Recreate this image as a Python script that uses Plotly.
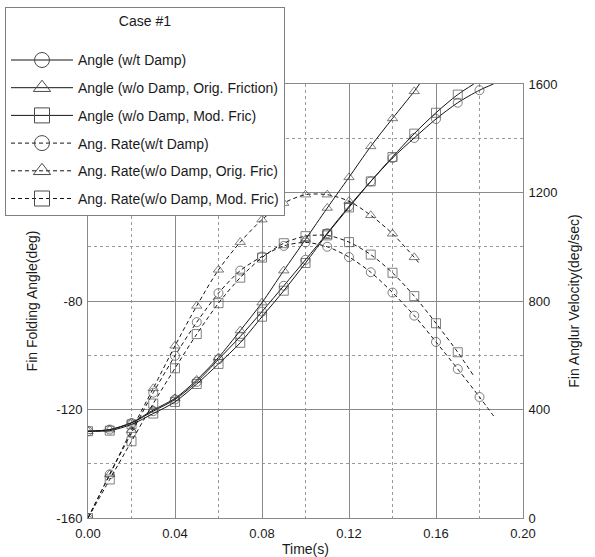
import plotly.graph_objects as go

# ---------------- data ----------------
t_marks = [0.00, 0.01, 0.02, 0.03, 0.04, 0.05, 0.06, 0.07, 0.08, 0.09,
           0.10, 0.11, 0.12, 0.13, 0.14, 0.15, 0.16, 0.17, 0.18]

# Angle (deg, left axis)
angle_wt_damp_t = t_marks[:19] + [0.1864]
angle_wt_damp = [-128.0, -127.4, -125.0, -120.6, -116.3, -109.8, -101.5, -93.1, -83.9, -74.4,
                 -64.8, -55.0, -45.1, -35.9, -27.3, -19.9, -12.9, -6.9, -2.3, 0.0]

angle_orig_t = t_marks[:16] + [0.1524]
angle_orig = [-128.0, -127.4, -124.8, -120.2, -115.9, -109.1, -100.8, -90.9, -80.6, -68.8,
              -57.3, -45.7, -34.4, -23.0, -12.7, -2.7, 0.0]

angle_mod_t = t_marks[:18] + [0.1774]
angle_mod = [-128.0, -127.8, -125.5, -121.5, -117.2, -110.6, -103.2, -95.4, -85.8, -76.2,
             -66.0, -55.3, -45.5, -35.9, -26.9, -18.3, -10.6, -3.9, 0.0]

# Angular rate (deg/sec, right axis)
rate_wt_damp_t = t_marks[:19] + [0.1865]
rate_wt_damp = [0, 161, 314, 462, 598, 722, 829, 912, 964, 1003,
                1016, 1000, 962, 906, 831, 746, 649, 549, 446, 376]

rate_orig_t = t_marks[:16] + [0.152]
rate_orig = [0, 161, 324, 478, 635, 782, 915, 1017, 1100, 1161,
             1192, 1192, 1168, 1116, 1048, 961, 942]

rate_mod_t = t_marks[:18] + [0.1771]
rate_mod = [0, 142, 283, 422, 552, 678, 792, 886, 960, 1013,
            1039, 1042, 1017, 971, 904, 818, 718, 611, 527]

# tick labels (left axis: upper two hidden behind the legend box in the original)
y1_tickvals = [-160, -120, -80, -40, 0]
y1_ticktext = ["-160", "-120", "-80", "", ""]

names = ["Angle (w/t Damp)",
         "Angle (w/o Damp, Orig. Friction)",
         "Angle (w/o Damp, Mod. Fric)",
         "Ang. Rate(w/t Damp)",
         "Ang. Rate(w/o Damp, Orig. Fric)",
         "Ang. Rate(w/o Damp, Mod. Fric)"]

series = [
    (angle_wt_damp_t, angle_wt_damp, "circle-open", "solid", "y"),
    (angle_orig_t, angle_orig, "triangle-up-open", "solid", "y"),
    (angle_mod_t, angle_mod, "square-open", "solid", "y"),
    (rate_wt_damp_t, rate_wt_damp, "circle-open", "4px,3px", "y2"),
    (rate_orig_t, rate_orig, "triangle-up-open", "4px,3px", "y2"),
    (rate_mod_t, rate_mod, "square-open", "4px,3px", "y2"),
]

LINE_C = "#151515"
MARK_C = "#4a4a4a"
FONT = "Liberation Sans, Arial, sans-serif"

fig = go.Figure()

for (tx, vy, sym, dash, ax), nm in zip(series, names):
    sizes = [9 if t in t_marks else 0 for t in tx]
    fig.add_trace(go.Scatter(
        x=tx, y=vy, yaxis=ax, mode="lines+markers", name=nm, showlegend=False,
        line=dict(color=LINE_C, width=1, dash=dash, shape="spline", smoothing=0.8),
        marker=dict(symbol=sym, size=sizes, color=MARK_C, line=dict(width=1, color=MARK_C)),
    ))

# legend entries
for i, ((tx, vy, sym, dash, ax), nm) in enumerate(zip(series, names)):
    fig.add_trace(go.Scatter(
        x=[None], y=[None], yaxis=ax, mode="lines+markers", name=nm,
        legendgroup=f"g{i}",
        line=dict(color=LINE_C, width=1, dash=dash),
        marker=dict(symbol=sym, size=15, color=MARK_C, line=dict(width=1, color=MARK_C)),
    ))

grid_major = "#8a8a8a"
grid_minor = "#9a9a9a"

fig.update_layout(
    width=595, height=557,
    margin=dict(l=88, r=72, t=84, b=39, autoexpand=False),
    paper_bgcolor="white", plot_bgcolor="white",
    font=dict(family=FONT, size=13, color="#1a1a1a"),
    xaxis=dict(
        range=[0, 0.2], dtick=0.04, tick0=0, tickformat=".2f",
        showgrid=True, gridcolor=grid_major, gridwidth=1,
        minor=dict(dtick=0.02, showgrid=True, gridcolor=grid_minor, griddash="dot", gridwidth=1),
        showline=True, linecolor=grid_major, mirror=True, zeroline=False, ticks="",
        ticklabelstandoff=3,
        title=dict(text="Time(s)", font=dict(size=14), standoff=4),
        automargin=False,
    ),
    yaxis=dict(
        range=[-160, 0], tickmode="array", tickvals=y1_tickvals, ticktext=y1_ticktext,
        showgrid=True, gridcolor=grid_major, gridwidth=1,
        minor=dict(dtick=20, tick0=-160, showgrid=True, gridcolor=grid_minor, griddash="dot", gridwidth=1),
        showline=True, linecolor=grid_major, mirror=True, zeroline=False, ticks="",
        ticklabelstandoff=2,
        title=dict(text="Fin Folding Angle(deg)", font=dict(size=14), standoff=15),
        automargin=False,
    ),
    yaxis2=dict(
        range=[0, 1600], dtick=400, tick0=0, overlaying="y", side="right",
        showgrid=False, zeroline=False, showline=True, linecolor=grid_major, ticks="",
        ticklabelstandoff=2,
        title=dict(text="Fin Anglur Velocity(deg/sec)", font=dict(size=14), standoff=12),
        automargin=False,
    ),
    legend=dict(
        x=(5 - 88) / 435, y=(518 - 7) / 434, xanchor="left", yanchor="top",
        bgcolor="white", bordercolor="#808080", borderwidth=1,
        font=dict(size=14, family=FONT),
        title=dict(text="Case #1<br> ", side="top center", font=dict(size=14)),
        tracegroupgap=6.5, itemwidth=62, traceorder="grouped",
    ),
)

fig.write_html("out.html", config={"displayModeBar": False},
               post_script="document.body.style.margin='0px';")
